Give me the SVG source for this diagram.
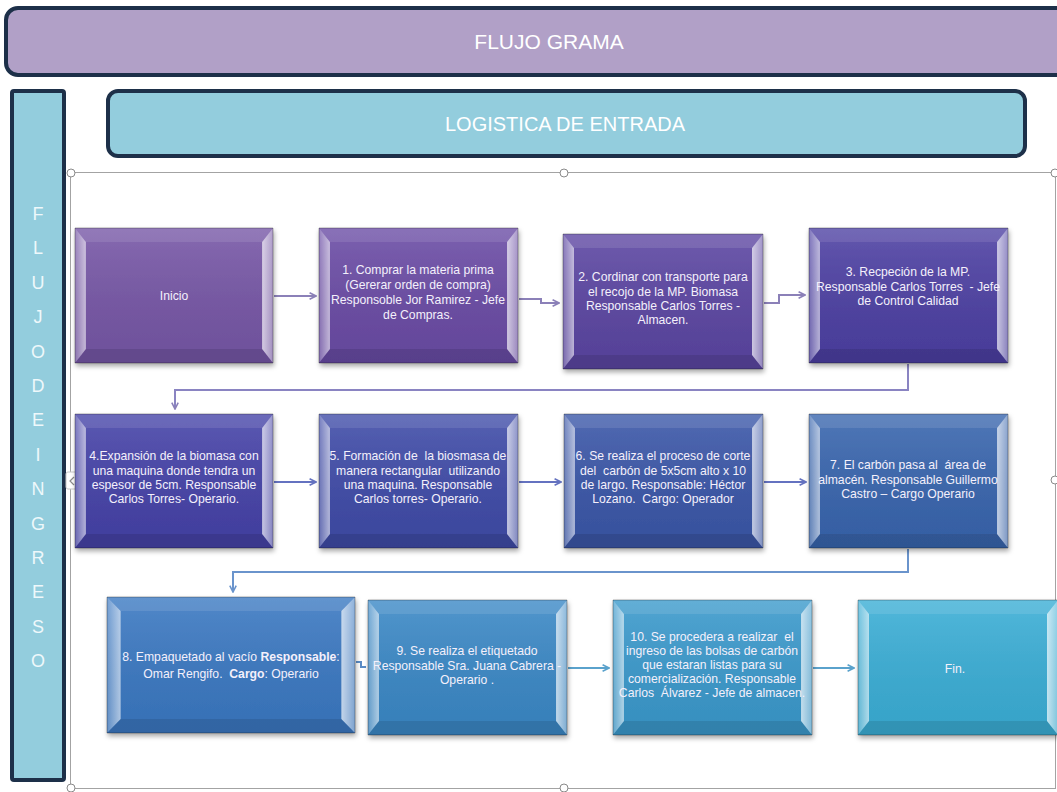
<svg xmlns="http://www.w3.org/2000/svg" xmlns:xlink="http://www.w3.org/1999/xlink" width="1057" height="792" viewBox="0 0 1057 792">
<style>
.bar{stroke:#1d3049;stroke-width:4}
.ttl{font-family:"Liberation Sans",Arial,sans-serif;fill:#ffffff;text-anchor:middle}
.lbl{font-family:"Liberation Sans",Arial,sans-serif;font-size:12.2px;fill:#f4f0fb;text-anchor:middle;white-space:pre}
.vl{font-family:"Liberation Sans",Arial,sans-serif;font-size:18px;fill:#eef8fb;text-anchor:middle}
.con{fill:none;stroke-width:2}
.hd{fill:#ffffff;stroke:#8a8a8a;stroke-width:1}
</style>
<defs>
<filter id="sh" x="-10%" y="-10%" width="125%" height="130%">
<feDropShadow dx="1" dy="3" stdDeviation="2.5" flood-color="#000" flood-opacity="0.35"/>
</filter>
<linearGradient id="gv" x1="0" y1="0" x2="0" y2="1">
<stop offset="0" stop-color="#fff" stop-opacity="0.12"/>
<stop offset="1" stop-color="#000" stop-opacity="0.06"/>
</linearGradient>
<linearGradient id="gl" x1="0" y1="0" x2="1" y2="0">
<stop offset="0" stop-color="#fff" stop-opacity="0.2"/>
<stop offset="1" stop-color="#fff" stop-opacity="0.6"/>
</linearGradient>
<linearGradient id="gr" x1="0" y1="0" x2="1" y2="0">
<stop offset="0" stop-color="#fff" stop-opacity="0.7"/>
<stop offset="1" stop-color="#fff" stop-opacity="0.35"/>
</linearGradient>
<symbol id="bx" viewBox="0 0 200 135" preserveAspectRatio="none" overflow="visible">
<rect x="0" y="0" width="200" height="135" fill="currentColor"/>
<rect x="0" y="0" width="200" height="135" fill="url(#gv)"/>
<polygon points="0,0 200,0 189,14 11,14" fill="#fff" fill-opacity="0.1"/>
<polygon points="0,135 200,135 189,121 11,121" fill="#000" fill-opacity="0.1"/>
<polygon points="0,0 11,14 11,121 0,135" fill="url(#gl)"/>
<polygon points="200,0 189,14 189,121 200,135" fill="url(#gr)"/>
<rect x="0" y="0" width="200" height="135" fill="none" stroke="#000" stroke-opacity="0.3" stroke-width="1" vector-effect="non-scaling-stroke"/>
</symbol>
<marker id="a1" viewBox="0 0 10 10" refX="9" refY="5" markerWidth="8" markerHeight="8" markerUnits="userSpaceOnUse" orient="auto"><path d="M1,1 L9,5 L1,9" fill="none" stroke="#8b80b8" stroke-width="2"/></marker>
<marker id="a2" viewBox="0 0 10 10" refX="9" refY="5" markerWidth="8" markerHeight="8" markerUnits="userSpaceOnUse" orient="auto"><path d="M1,1 L9,5 L1,9" fill="none" stroke="#6472c0" stroke-width="2"/></marker>
<marker id="a3" viewBox="0 0 10 10" refX="9" refY="5" markerWidth="8" markerHeight="8" markerUnits="userSpaceOnUse" orient="auto"><path d="M1,1 L9,5 L1,9" fill="none" stroke="#6a94cc" stroke-width="2"/></marker>
<marker id="a4" viewBox="0 0 10 10" refX="9" refY="5" markerWidth="8" markerHeight="8" markerUnits="userSpaceOnUse" orient="auto"><path d="M1,1 L9,5 L1,9" fill="none" stroke="#5aa2cc" stroke-width="2"/></marker>
</defs>
<rect width="1057" height="792" fill="#ffffff"/>

<g id="title">
<rect class="bar" x="6" y="8" width="1070" height="67" rx="12" fill="#b1a0c7"/>
<text class="ttl" x="549" y="49" font-size="21">FLUJO GRAMA</text>
</g>
<g id="subtitle">
<rect class="bar" x="108" y="91" width="917" height="65" rx="10" fill="#93cddd"/>
<text class="ttl" x="565" y="131" font-size="20">LOGISTICA DE ENTRADA</text>
</g>
<g id="sidebar">
<rect class="bar" x="12" y="91" width="52" height="689" rx="2" fill="#93cddd"/>
<text class="vl" x="38" y="220">F</text>
<text class="vl" x="38" y="254">L</text>
<text class="vl" x="38" y="289">U</text>
<text class="vl" x="38" y="323">J</text>
<text class="vl" x="38" y="358">O</text>
<text class="vl" x="38" y="392">D</text>
<text class="vl" x="38" y="426">E</text>
<text class="vl" x="38" y="461">I</text>
<text class="vl" x="38" y="495">N</text>
<text class="vl" x="38" y="530">G</text>
<text class="vl" x="38" y="564">R</text>
<text class="vl" x="38" y="598">E</text>
<text class="vl" x="38" y="633">S</text>
<text class="vl" x="38" y="667">O</text>
</g>

<g id="frame">
<rect x="70.5" y="172.5" width="985" height="616" fill="none" stroke="#a3a3a3" stroke-width="1"/>
<circle class="hd" cx="71" cy="173" r="4"/>
<circle class="hd" cx="564" cy="173" r="4"/>
<circle class="hd" cx="1055" cy="173" r="4"/>
<circle class="hd" cx="1055" cy="480" r="4"/>
<circle class="hd" cx="71" cy="788" r="4"/>
<circle class="hd" cx="564" cy="788" r="4"/>
<rect x="66" y="472" width="13" height="17" rx="2" fill="#ffffff" stroke="#c8c8c8" stroke-width="1"/>
<path d="M74,477 L70,481 L74,485" fill="none" stroke="#8a8a8a" stroke-width="1.2"/>
</g>

<g id="connectors">
<path class="con" d="M274,296 H316" stroke="#8b80b8" marker-end="url(#a1)"/>
<path class="con" d="M519,299 H541 V303 H559" stroke="#8b80b8" marker-end="url(#a1)"/>
<path class="con" d="M764,303 H779 V295 H805" stroke="#8b80b8" marker-end="url(#a1)"/>
<path class="con" d="M908,364 V390 H175 V409" stroke="#8a84c2" marker-end="url(#a1)"/>
<path class="con" d="M274,482 H316" stroke="#6472c0" marker-end="url(#a2)"/>
<path class="con" d="M519,482 H561" stroke="#6472c0" marker-end="url(#a2)"/>
<path class="con" d="M764,482 H806" stroke="#6472c0" marker-end="url(#a2)"/>
<path class="con" d="M908,549 V572 H233 V592" stroke="#6a94cc" marker-end="url(#a3)"/>
<path class="con" d="M356,662 H361 V667 H366" stroke="#5a8cc6"/>
<path class="con" d="M568,668 H609" stroke="#5aa2cc" marker-end="url(#a4)"/>
<path class="con" d="M813,668 H854" stroke="#5aa2cc" marker-end="url(#a4)"/>
</g>

<g id="n-inicio">
<use xlink:href="#bx" x="75" y="228" width="198" height="135" filter="url(#sh)" style="color:#7656a6"/>
<text class="lbl" x="174" y="300">Inicio</text>
</g>
<g id="n-1">
<use xlink:href="#bx" x="319" y="228" width="199" height="135" filter="url(#sh)" style="color:#6a4ba5"/>
<text class="lbl" x="418" y="274">1. Comprar la materia prima</text>
<text class="lbl" x="418" y="289">(Gererar orden de compra)</text>
<text class="lbl" x="418" y="304">Responsoble Jor Ramirez - Jefe</text>
<text class="lbl" x="418" y="319">de Compras.</text>
</g>
<g id="n-2">
<use xlink:href="#bx" x="563" y="234" width="200" height="135" filter="url(#sh)" style="color:#5b45a2"/>
<text class="lbl" x="663" y="281">2. Cordinar con transporte para</text>
<text class="lbl" x="663" y="296">el recojo de la MP. Biomasa</text>
<text class="lbl" x="663" y="310">Responsable Carlos Torres -</text>
<text class="lbl" x="663" y="324">Almacen.</text>
</g>
<g id="n-3">
<use xlink:href="#bx" x="809" y="228" width="199" height="135" filter="url(#sh)" style="color:#4d40a3"/>
<text class="lbl" x="908" y="276">3. Recpeción de la MP.</text>
<text class="lbl" x="908" y="291">Responsable Carlos Torres  - Jefe</text>
<text class="lbl" x="908" y="305">de Control Calidad</text>
</g>
<g id="n-4">
<use xlink:href="#bx" x="75" y="414" width="198" height="134" filter="url(#sh)" style="color:#4542a8"/>
<text class="lbl" x="174" y="460">4.Expansión de la biomasa con</text>
<text class="lbl" x="174" y="475">una maquina donde tendra un</text>
<text class="lbl" x="174" y="489">espesor de 5cm. Responsable</text>
<text class="lbl" x="174" y="503">Carlos Torres- Operario.</text>
</g>
<g id="n-5">
<use xlink:href="#bx" x="319" y="414" width="199" height="134" filter="url(#sh)" style="color:#3f4ba8"/>
<text class="lbl" x="418" y="460">5. Formación de  la biosmasa de</text>
<text class="lbl" x="418" y="475">manera rectangular  utilizando</text>
<text class="lbl" x="418" y="489">una maquina. Responsable</text>
<text class="lbl" x="418" y="503">Carlos torres- Operario.</text>
</g>
<g id="n-6">
<use xlink:href="#bx" x="564" y="414" width="199" height="134" filter="url(#sh)" style="color:#3a56a8"/>
<text class="lbl" x="663" y="460">6. Se realiza el proceso de corte</text>
<text class="lbl" x="663" y="475">del  carbón de 5x5cm alto x 10</text>
<text class="lbl" x="663" y="489">de largo. Responsable: Héctor</text>
<text class="lbl" x="663" y="503">Lozano.  Cargo: Operador</text>
</g>
<g id="n-7">
<use xlink:href="#bx" x="809" y="414" width="199" height="134" filter="url(#sh)" style="color:#3865ae"/>
<text class="lbl" x="908" y="469">7. El carbón pasa al  área de</text>
<text class="lbl" x="908" y="484">almacén. Responsable Guillermo</text>
<text class="lbl" x="908" y="498">Castro – Cargo Operario</text>
</g>
<g id="n-8">
<use xlink:href="#bx" x="107" y="597" width="248" height="136" filter="url(#sh)" style="color:#3a78c2"/>
<text class="lbl" x="231" y="661">8. Empaquetado al vacío <tspan font-weight="bold">Responsable</tspan>:</text>
<text class="lbl" x="231" y="678">Omar Rengifo.  <tspan font-weight="bold">Cargo</tspan>: Operario</text>
</g>
<g id="n-9">
<use xlink:href="#bx" x="368" y="600" width="199" height="135" filter="url(#sh)" style="color:#3a88c6"/>
<text class="lbl" x="467" y="655">9. Se realiza el etiquetado</text>
<text class="lbl" x="467" y="670">Responsable Sra. Juana Cabrera -</text>
<text class="lbl" x="467" y="684">Operario .</text>
</g>
<g id="n-10">
<use xlink:href="#bx" x="613" y="600" width="199" height="135" filter="url(#sh)" style="color:#3a99cc"/>
<text class="lbl" x="712" y="641">10. Se procedera a realizar  el</text>
<text class="lbl" x="712" y="655">ingreso de las bolsas de carbón</text>
<text class="lbl" x="712" y="669">que estaran listas para su</text>
<text class="lbl" x="712" y="683">comercialización. Responsable</text>
<text class="lbl" x="712" y="697">Carlos  Álvarez - Jefe de almacen.</text>
</g>
<g id="n-fin">
<use xlink:href="#bx" x="858" y="600" width="200" height="135" filter="url(#sh)" style="color:#3aaed6"/>
<text class="lbl" x="955" y="673">Fin.</text>
</g>
</svg>
